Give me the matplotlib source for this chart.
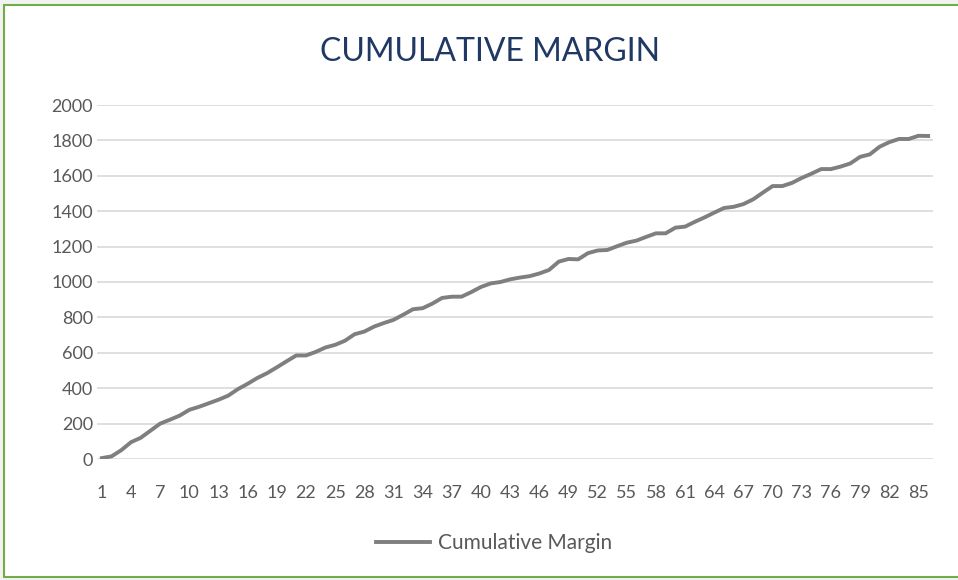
import matplotlib.pyplot as plt
from matplotlib.patches import Rectangle

periods = list(range(1, 87))
cumulative_margin = [
    5, 15, 50, 95, 120, 160, 200, 222, 245, 278,
    295, 315, 335, 358, 395, 425, 458, 485, 518, 552,
    585, 585, 605, 630, 645, 668, 705, 720, 748, 768,
    786, 815, 846, 852, 878, 910, 917, 917, 943, 972,
    992, 1000, 1015, 1025, 1033, 1048, 1068, 1115, 1130, 1128,
    1163, 1178, 1181, 1202, 1222, 1234, 1255, 1275, 1275, 1307,
    1313, 1340, 1365, 1392, 1418, 1425, 1440, 1467, 1505, 1542,
    1542, 1560, 1588, 1612, 1638, 1638, 1652, 1670, 1707, 1721,
    1764, 1790, 1808, 1808, 1826, 1825,
]
tick_labels = periods[::3]
y_ticks = list(range(0, 2001, 200))

plt.rcParams['font.family'] = ['Lato', 'DejaVu Sans']

fig = plt.figure(figsize=(9.58, 5.80), dpi=100)
fig.patch.set_facecolor('#f2f2f2')
# white chart area with green frame
fig.patches.append(Rectangle((4 / 958, 3 / 580), 960 / 958, 572 / 580,
                             transform=fig.transFigure, facecolor='white',
                             edgecolor='#70ad47', linewidth=1.5, zorder=0))

ax = fig.add_axes([97 / 958, 121 / 580, 836 / 958, 354 / 580])
ax.set_zorder(2)
ax.set_facecolor('none')
ax.plot(periods, cumulative_margin, color='#7f7f7f', linewidth=2.8,
        solid_joinstyle='round', label='Cumulative Margin')

ax.set_xlim(0.5, 86.5)
ax.set_ylim(0, 2000)
ax.set_yticks(y_ticks)
ax.set_xticks(tick_labels)
ax.set_xticklabels([str(t) for t in tick_labels])
ax.grid(axis='y', color='#d9d9d9', linewidth=1.2)
ax.set_axisbelow(True)
for s in ax.spines.values():
    s.set_visible(False)
ax.tick_params(axis='both', length=0, labelsize=13, colors='#595959')
ax.tick_params(axis='x', pad=19)
ax.tick_params(axis='y', pad=3)

fig.text(490 / 958, 1 - 52 / 580, 'CUMULATIVE MARGIN', ha='center', va='center',
         fontsize=23, color='#1f3864', zorder=3)

fig.legend(loc='center', bbox_to_anchor=(494 / 958, 1 - 543 / 580), frameon=False,
           fontsize=15, labelcolor='#595959', handlelength=2.6, handletextpad=0.4)

fig.savefig('out.png', dpi=100, facecolor=fig.get_facecolor())
